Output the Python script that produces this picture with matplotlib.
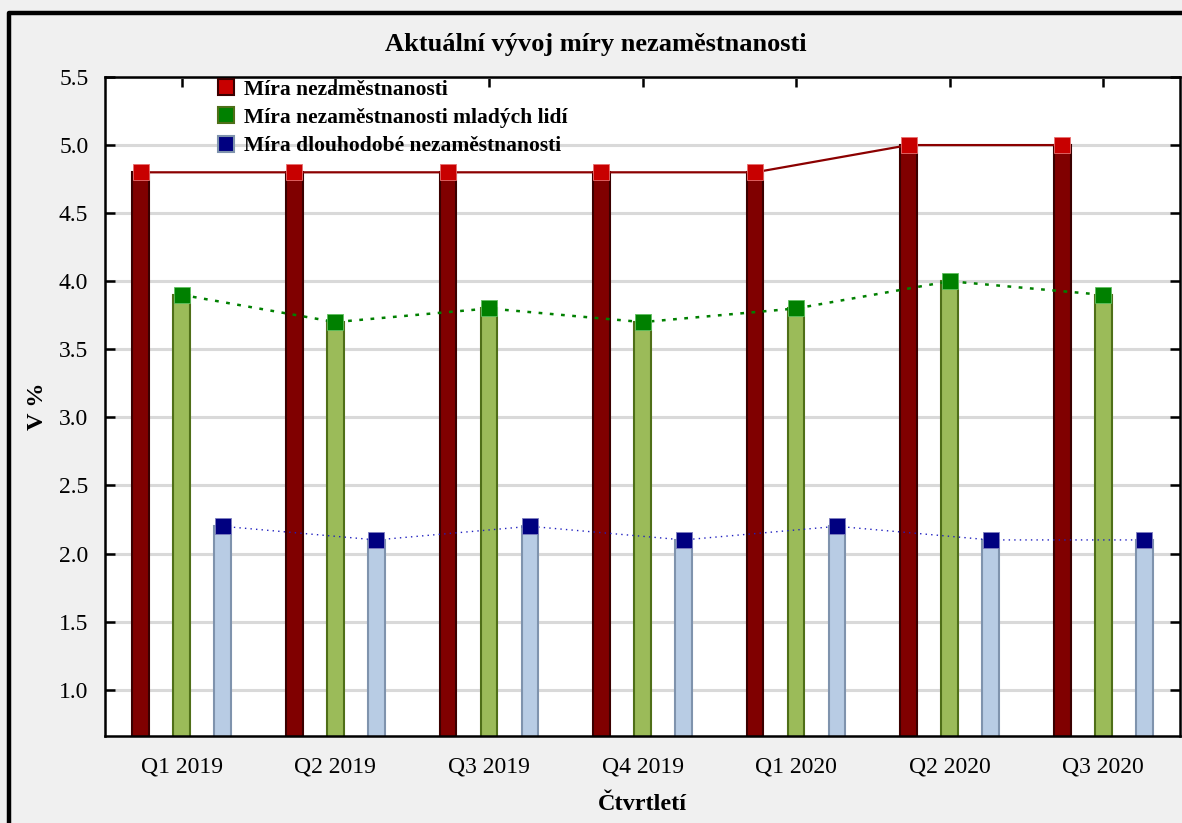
import matplotlib
matplotlib.use('Agg')
import matplotlib.pyplot as plt
from matplotlib.lines import Line2D
import numpy as np

plt.rcParams['font.family'] = ['Liberation Serif', 'DejaVu Serif']

quarters = ['Q1 2019', 'Q2 2019', 'Q3 2019', 'Q4 2019', 'Q1 2020', 'Q2 2020', 'Q3 2020']
unemployment = [4.8, 4.8, 4.8, 4.8, 4.8, 5.0, 5.0]
youth_unemployment = [3.9, 3.7, 3.8, 3.7, 3.8, 4.0, 3.9]
longterm_unemployment = [2.2, 2.1, 2.2, 2.1, 2.2, 2.1, 2.1]

series_labels = ['Míra nezaměstnanosti',
                 'Míra nezaměstnanosti mladých lidí',
                 'Míra dlouhodobé nezaměstnanosti']

BAR_WIDTH = 0.108
OFFSET = 0.267

# (bar fill, bar edge, marker face, marker edge, line colour, line style, line width)
STYLES = [
    ('#800000', '#3a0000', '#c80000', '#e87070', '#8b0000', '-', 1.6),
    ('#9bbb59', '#4f6f18', '#008000', '#60c060', '#008000', (0, (1.5, 3)), 1.8),
    ('#b8cce4', '#7f93ad', '#000080', '#8080c0', '#2020c0', (0, (1, 3)), 1.0),
]

fig = plt.figure(figsize=(11.82, 8.23), dpi=100, facecolor='#f0f0f0')
ax = fig.add_axes([105 / 1182, 1 - 736 / 823, 1075 / 1182, 659 / 823])
ax.set_facecolor('white')

x = np.arange(len(quarters))
all_values = [unemployment, youth_unemployment, longterm_unemployment]
handles = []
for i, (vals, st) in enumerate(zip(all_values, STYLES)):
    fill, edge, mface, medge, lcol, ls, lw = st
    xs = x + (i - 1) * OFFSET
    ax.bar(xs, vals, width=BAR_WIDTH, color=fill, edgecolor=edge,
           linewidth=1.5, zorder=2)
    ax.plot(xs, vals, color=lcol, linestyle=ls, linewidth=lw, zorder=3)
    ax.plot(xs, vals, linestyle='none', marker='s', markersize=12,
            markerfacecolor=mface, markeredgecolor=medge,
            markeredgewidth=0.6, zorder=4)
    handles.append(Line2D([], [], linestyle='none', marker='s', markersize=12,
                          markerfacecolor=mface, markeredgecolor=edge,
                          markeredgewidth=1.5))

ax.set_xlim(-0.5, len(quarters) - 0.5)
ax.set_ylim(0.66, 5.5)
ax.set_yticks(np.arange(1.0, 5.51, 0.5))
ax.set_yticklabels([f'{v:.1f}' for v in np.arange(1.0, 5.51, 0.5)])
ax.set_xticks(x)
ax.set_xticklabels(quarters)

ax.yaxis.grid(True, color='#d9d9d9', linewidth=2.2, zorder=0)
ax.set_axisbelow(True)
ax.tick_params(axis='both', direction='in', length=7, width=1.8,
               labelsize=17, top=True, right=True, colors='black')
ax.tick_params(axis='x', pad=15)
ax.tick_params(axis='y', pad=12)
for sp in ax.spines.values():
    sp.set_linewidth(1.8)
    sp.set_color('black')

ax.set_xlabel('Čtvrtletí', fontsize=17.5, fontweight='bold', labelpad=12)
ax.set_ylabel('V %', fontsize=17.5, fontweight='bold', labelpad=8)
fig.text(0.504, 1 - 45 / 823, 'Aktuální vývoj míry nezaměstnanosti',
         ha='center', va='center', fontsize=19, fontweight='bold')

ax.legend(handles, series_labels, loc='upper left',
          bbox_to_anchor=(0.097, 1.009), frameon=False,
          prop={'size': 15.5, 'weight': 'bold'},
          handlelength=0.8, handletextpad=0.4, labelspacing=0.38,
          borderaxespad=0)

# outer frame (left and top edges visible in the screenshot)
fig.add_artist(Line2D([9 / 1182, 9 / 1182, 1.0], [0.0, 1 - 13 / 823, 1 - 13 / 823],
                      transform=fig.transFigure, color='black', linewidth=3.2))

fig.savefig('out.png', dpi=100, facecolor=fig.get_facecolor())
